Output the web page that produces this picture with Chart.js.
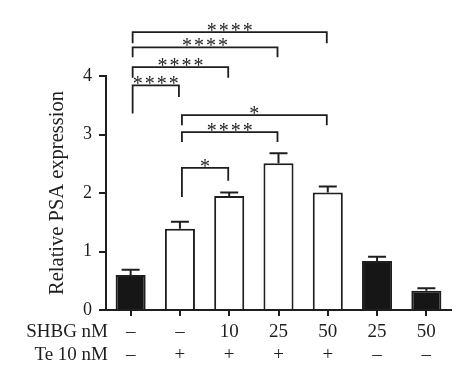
<!DOCTYPE html>
<html>
<head>
<meta charset="utf-8">
<script src="https://cdn.jsdelivr.net/npm/chart.js@4.4.1/dist/chart.umd.min.js"></script>
<style>
  html, body { margin: 0; padding: 0; background: #fff; }
</style>
</head>
<body>
<canvas id="chart" width="474" height="384"></canvas>
<script>
// categories (two rows of condition labels)
const shbgLabels = ['–', '–', '10', '25', '50', '25', '50'];
const teLabels = ['–', '+', '+', '+', '+', '–', '–'];
const rowNames = ['SHBG nM', 'Te 10 nM'];

// relative PSA expression, mean and upper error
const psaMean = [0.60, 1.39, 1.95, 2.51, 2.01, 0.84, 0.33];
const psaErr = [0.09, 0.12, 0.06, 0.17, 0.10, 0.07, 0.04];

// significance brackets (bar indexes, heights in data units)
const sigFrom = [0, 0, 0, 0, 1, 1, 1];
const sigTo = [4, 3, 2, 1, 4, 3, 2];
const sigTop = [4.75, 4.49, 4.15, 3.84, 3.33, 3.04, 2.43];
const sigLegL = [4.56, 4.32, 3.97, 3.36, 3.16, 2.87, 1.93];
const sigLegR = [4.56, 4.32, 3.97, 3.64, 3.16, 2.87, 2.21];
const sigText = ['****', '****', '****', '****', '*', '****', '*'];

const FONT = '"Liberation Serif", "DejaVu Serif", serif';
const INK = '#1e1e1e';

const labels = shbgLabels.map((s, i) => [s, teLabels[i]]);

// error bars (upper only)
const errorBars = {
  id: 'errorBars',
  afterDatasetsDraw(chart) {
    const ctx = chart.ctx;
    const y = chart.scales.y;
    const meta = chart.getDatasetMeta(0);
    ctx.save();
    ctx.strokeStyle = INK;
    ctx.lineWidth = 2;
    meta.data.forEach((bar, i) => {
      const top = y.getPixelForValue(psaMean[i] + psaErr[i]);
      const base = y.getPixelForValue(psaMean[i]);
      ctx.beginPath();
      ctx.moveTo(bar.x, base);
      ctx.lineTo(bar.x, top);
      ctx.moveTo(bar.x - 9, top);
      ctx.lineTo(bar.x + 9, top);
      ctx.stroke();
    });
    ctx.restore();
  }
};

// significance brackets + row names under the x axis
const annotations = {
  id: 'annotations',
  afterDraw(chart) {
    const ctx = chart.ctx;
    const x = chart.scales.x;
    const y = chart.scales.y;
    ctx.save();
    ctx.strokeStyle = INK;
    ctx.fillStyle = INK;
    ctx.lineWidth = 1.8;
    ctx.textAlign = 'center';
    ctx.textBaseline = 'alphabetic';
    ctx.font = '20px ' + FONT;
    for (let k = 0; k < sigFrom.length; k++) {
      const x1 = x.getPixelForValue(sigFrom[k]) + 2;
      const x2 = x.getPixelForValue(sigTo[k]) - 1;
      const yt = y.getPixelForValue(sigTop[k]);
      ctx.beginPath();
      ctx.moveTo(x1, y.getPixelForValue(sigLegL[k]));
      ctx.lineTo(x1, yt);
      ctx.lineTo(x2, yt);
      ctx.lineTo(x2, y.getPixelForValue(sigLegR[k]));
      ctx.stroke();
      const n = sigText[k].length;
      const cx = (x1 + x2) / 2;
      for (let s = 0; s < n; s++) {
        ctx.fillText('*', cx + (s - (n - 1) / 2) * 12, yt + 5);
      }
    }
    // row names
    const opts = x.options;
    const lh = 19 * 1.21;
    const y0 = x.top + opts.grid.tickLength + opts.ticks.padding;
    ctx.font = '19px ' + FONT;
    ctx.textAlign = 'right';
    ctx.textBaseline = 'middle';
    rowNames.forEach((name, i) => {
      ctx.fillText(name, x.left + 2, y0 + lh / 2 + i * lh);
    });
    ctx.restore();
  }
};

new Chart(document.getElementById('chart'), {
  type: 'bar',
  data: {
    labels: labels,
    datasets: [{
      data: psaMean,
      backgroundColor: teLabels.map(t => t === '+' ? '#ffffff' : '#161616'),
      borderColor: INK,
      borderWidth: 2,
      borderSkipped: 'bottom',
      barPercentage: 0.61,
      categoryPercentage: 1
    }]
  },
  options: {
    responsive: false,
    devicePixelRatio: 1,
    animation: false,
    layout: { padding: { top: 76, right: 23, bottom: 12, left: 0 } },
    plugins: {
      legend: { display: false },
      tooltip: { enabled: false }
    },
    scales: {
      x: {
        offset: true,
        grid: { display: true, drawOnChartArea: false, drawTicks: true, tickLength: 6, offset: false, color: INK, lineWidth: 2 },
        border: { display: true, color: INK, width: 2 },
        ticks: { color: INK, padding: 5, maxRotation: 0, autoSkip: false, font: { family: FONT, size: 19, lineHeight: 1.21 } }
      },
      y: {
        min: 0,
        max: 4,
        afterFit(scale) { scale.width = 106; },
        grid: { display: true, drawOnChartArea: false, drawTicks: true, tickLength: 7, color: INK, lineWidth: 2 },
        border: { display: true, color: INK, width: 2 },
        ticks: { stepSize: 1, color: INK, padding: 7, font: { family: FONT, size: 18 } },
        title: {
          display: true,
          text: 'Relative PSA expression',
          color: INK,
          padding: { top: 45, bottom: 0 },
          font: { family: FONT, size: 20.5 }
        }
      }
    }
  },
  plugins: [errorBars, annotations]
});
</script>
</body>
</html>
